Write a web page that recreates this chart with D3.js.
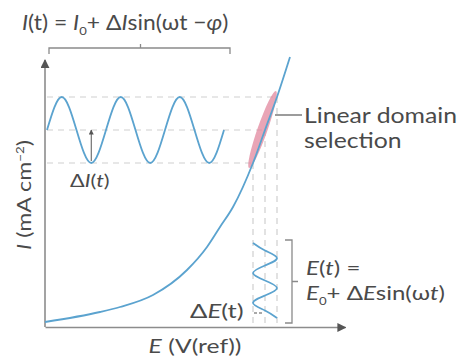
<!DOCTYPE html>
<html>
<head>
<meta charset="utf-8">
<style>
  body { margin: 0; background: #fff; }
  svg { display: block; }
  text { font-family: Lato, "Open Sans", sans-serif; fill: #4a4a4a; }
</style>
</head>
<body>
<svg id="chart" width="464" height="361"></svg>
<script src="https://d3js.org/d3.v7.min.js"></script>
<script>
// polarisation curve E vs I (arbitrary units)
var curveE = [0, 55, 75, 108, 142, 162, 175, 188, 208, 220, 232, 245];
var curveI = [5, 15, 20, 32, 57, 80, 100, 120, 164, 197, 230, 270];

// linear domain: points where the dashed guides meet the curve
var linE = [208, 220, 232];
var linI = [164, 197, 230];

// current response I(t): quarter-period samples
var waveT = [0, 0.25, 0.5, 0.75, 1, 1.25, 1.5, 1.75, 2, 2.25, 2.5, 2.75, 3];
var waveV = [0, 1, 0, -1, 0, 1, 0, -1, 0, 1, 0, -1, 0];

// potential perturbation E(t): quarter-period samples, drawn downward
var eWaveT = [0, 0.25, 0.5, 0.75, 1, 1.25, 1.5, 1.75, 2, 2.25, 2.5];
var eWaveV = [-1, 0, 1, 0, -1, 0, 1, 0, -1, 0, 1];

var svg = d3.select("#chart");

var x = d3.scaleLinear().domain([0, 300]).range([45, 345]);
var y = d3.scaleLinear().domain([0, 267]).range([327, 60]);

var blue = "#5ba3cf", axisCol = "#8c8c8c", dashCol = "#cfcfcf";

var defs = svg.append("defs");
function marker(id, size) {
  defs.append("marker")
      .attr("id", id)
      .attr("viewBox", "0 0 10 10")
      .attr("refX", 9).attr("refY", 5)
      .attr("markerWidth", size).attr("markerHeight", size)
      .attr("markerUnits", "userSpaceOnUse")
      .attr("orient", "auto")
    .append("path")
      .attr("d", "M0,0L10,5L0,10z")
      .attr("fill", "#555");
}
marker("arr", 9);
marker("arrS", 5);

// dashed guides
var I0 = linI[1], dI = linI[2] - linI[1];
linI.forEach(function(v, i) {
  svg.append("line")
      .attr("x1", x(2)).attr("x2", x(linE[i]))
      .attr("y1", y(v)).attr("y2", y(v))
      .attr("stroke", dashCol).attr("stroke-width", 1.2)
      .attr("stroke-dasharray", "6,5");
  svg.append("line")
      .attr("x1", x(linE[i])).attr("x2", x(linE[i]))
      .attr("y1", y(v)).attr("y2", y(0))
      .attr("stroke", dashCol).attr("stroke-width", 1.2)
      .attr("stroke-dasharray", "6,5");
});

// linear domain highlight
var p0 = [x(linE[0]) - 3, y(linI[0]) + 5], p1 = [x(linE[2]), y(linI[2]) - 6];
var cx = (p0[0] + p1[0]) / 2 - 1, cy = (p0[1] + p1[1]) / 2;
var len = Math.hypot(p1[0] - p0[0], p1[1] - p0[1]);
var ang = Math.atan2(p1[1] - p0[1], p1[0] - p0[0]) * 180 / Math.PI;
svg.append("ellipse")
    .attr("transform", "translate(" + cx + "," + cy + ") rotate(" + ang + ")")
    .attr("rx", len / 2).attr("ry", 5)
    .attr("fill", "#e2879d").attr("opacity", 0.75);

// axes
svg.append("g")
    .attr("transform", "translate(0," + y(0) + ")")
    .call(d3.axisBottom(x).ticks(0).tickSizeOuter(0))
    .call(function(g) { g.select(".domain").attr("stroke", axisCol).attr("stroke-width", 1.6).attr("marker-end", "url(#arr)"); });
svg.append("line")
    .attr("x1", x(0)).attr("x2", x(0))
    .attr("y1", y(0)).attr("y2", y(267))
    .attr("stroke", axisCol).attr("stroke-width", 1.6)
    .attr("marker-end", "url(#arr)");

// curve
var curvePts = curveE.map(function(e, i) { return [e, curveI[i]]; });
svg.append("path")
    .datum(curvePts)
    .attr("fill", "none").attr("stroke", blue).attr("stroke-width", 1.8)
    .attr("d", d3.line().x(function(d) { return x(d[0]); }).y(function(d) { return y(d[1]); }).curve(d3.curveMonotoneX));

// I(t) wave
var tI = d3.scaleLinear().domain([0, 3]).range([x(2), x(179)]);
var vI = d3.scaleLinear().domain([-1, 1]).range([y(I0 - dI), y(I0 + dI)]);
svg.append("path")
    .datum(waveT.map(function(t, i) { return [t, waveV[i]]; }))
    .attr("fill", "none").attr("stroke", blue).attr("stroke-width", 1.8)
    .attr("d", d3.line().x(function(d) { return tI(d[0]); }).y(function(d) { return vI(d[1]); }).curve(d3.curveNatural));

// delta I arrow
svg.append("line")
    .attr("x1", tI(0.75)).attr("x2", tI(0.75))
    .attr("y1", vI(-1) - 2).attr("y2", vI(0))
    .attr("stroke", "#555").attr("stroke-width", 1)
    .attr("marker-end", "url(#arrS)");

// E(t) wave
var tE = d3.scaleLinear().domain([0, 2.5]).range([y(84), y(9)]);
var vE = d3.scaleLinear().domain([-1, 1]).range([x(linE[0]), x(linE[2])]);
svg.append("path")
    .datum(eWaveT.map(function(t, i) { return [t, eWaveV[i]]; }))
    .attr("fill", "none").attr("stroke", blue).attr("stroke-width", 1.8)
    .attr("d", d3.line().x(function(d) { return vE(d[1]); }).y(function(d) { return tE(d[0]); }).curve(d3.curveNatural));

// delta E tick
svg.append("line")
    .attr("x1", vE(-1) + 1).attr("x2", vE(0) - 1)
    .attr("y1", 313).attr("y2", 313)
    .attr("stroke", "#555").attr("stroke-width", 1.2)
    .attr("stroke-dasharray", "3,2");

// brackets
var bCol = "#8a8a8a";
svg.append("path")
    .attr("d", "M" + (tI(0) + 2) + ",54V48H" + (tI(3) + 6) + "V54M" + ((tI(0) + tI(3)) / 2 + 5) + ",48V44")
    .attr("fill", "none").attr("stroke", bCol).attr("stroke-width", 1.3);
svg.append("path")
    .attr("d", "M285," + (tE(0) - 3) + "H292V" + (tE(2.5) + 5) + "H285M292," + ((tE(0) + tE(2.5)) / 2 + 1) + "H298")
    .attr("fill", "none").attr("stroke", bCol).attr("stroke-width", 1.3);

// leader
svg.append("line")
    .attr("x1", x(linE[2]) - 2).attr("x2", 302)
    .attr("y1", 115).attr("y2", 115)
    .attr("stroke", "#666").attr("stroke-width", 1.3);

// texts (horizontally stretched to match the wide face of the original)
function label(px, py, size, sx, rot) {
  return svg.append("text")
      .attr("transform", "translate(" + px + "," + py + ")" + (rot ? " rotate(" + rot + ")" : "") + " scale(" + sx + ",1)")
      .style("font-size", size + "px");
}

var t1 = label(22, 30, 21, 1.09);
t1.append("tspan").style("font-style", "italic").text("I");
t1.append("tspan").text("(t) = ");
t1.append("tspan").style("font-style", "italic").text("I");
t1.append("tspan").attr("dy", 5).style("font-size", "12px").text("0");
t1.append("tspan").attr("dy", -5).text("+ Δ");
t1.append("tspan").style("font-style", "italic").text("I");
t1.append("tspan").text("sin(ωt −");
t1.append("tspan").style("font-style", "italic").text("φ");
t1.append("tspan").text(")");

label(304, 123, 21, 1.18).text("Linear domain");
label(304, 148, 21, 1.18).text("selection");

var d1 = label(70, 187, 18, 1.2);
d1.append("tspan").text("Δ");
d1.append("tspan").style("font-style", "italic").text("I");
d1.append("tspan").text("(");
d1.append("tspan").style("font-style", "italic").text("t");
d1.append("tspan").text(")");

var e1 = label(306, 275, 20, 1.2);
e1.append("tspan").style("font-style", "italic").text("E");
e1.append("tspan").text("(");
e1.append("tspan").style("font-style", "italic").text("t");
e1.append("tspan").text(") =");
var e2 = label(306, 300, 20, 1.2);
e2.append("tspan").style("font-style", "italic").text("E");
e2.append("tspan").attr("dy", 5).style("font-size", "11px").text("0");
e2.append("tspan").attr("dy", -5).text("+ Δ");
e2.append("tspan").style("font-style", "italic").text("E");
e2.append("tspan").text("sin(ω");
e2.append("tspan").style("font-style", "italic").text("t");
e2.append("tspan").text(")");

var de = label(190, 318, 19, 1.35);
de.append("tspan").text("Δ");
de.append("tspan").style("font-style", "italic").text("E");
de.append("tspan").text("(t)");

var xl = label(195, 353, 19, 1.3).attr("text-anchor", "middle");
xl.append("tspan").style("font-style", "italic").text("E");
xl.append("tspan").text(" (V(ref))");

var yl = label(31, 195, 19, 1.22, -90).attr("text-anchor", "middle");
yl.append("tspan").style("font-style", "italic").text("I");
yl.append("tspan").text(" (mA cm");
yl.append("tspan").attr("dy", -7).style("font-size", "11px").text("−2");
yl.append("tspan").attr("dy", 7).text(")");
</script>
</body>
</html>
